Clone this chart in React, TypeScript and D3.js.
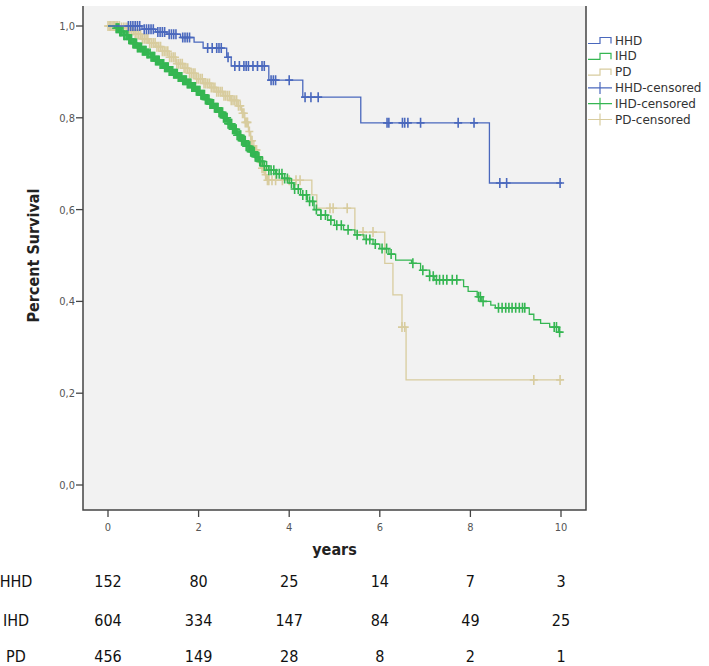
import React from "react";
import * as d3 from "d3";

// Kaplan-Meier steps: time (years) where survival drops, and new value
const hhdStepT = [0.75, 1.05, 1.3, 1.6, 1.9, 2.1, 2.62, 2.72, 3.55, 4.3, 5.58, 8.42];
const hhdStepS = [0.993, 0.987, 0.982, 0.975, 0.965, 0.952, 0.932, 0.913, 0.882, 0.845, 0.789, 0.658];
const hhdCens = [0.45, 0.5, 0.55, 0.6, 0.65, 0.7, 0.8, 0.85, 0.9, 0.95, 1.0, 1.1, 1.15, 1.2, 1.25, 1.35, 1.4, 1.45, 1.5,
  1.65, 1.7, 1.75, 1.8, 2.2, 2.3, 2.4, 2.45, 2.5, 2.65, 2.8, 2.9, 3.0, 3.05, 3.1, 3.2, 3.3, 3.4, 3.45, 3.6, 3.65, 3.7,
  4.0, 4.35, 4.48, 4.64, 6.16, 6.2, 6.5, 6.55, 6.62, 6.9, 7.73, 8.08, 8.65, 8.8, 9.98];

const ihdStepT = [0.15, 0.25, 0.35, 0.45, 0.55, 0.65, 0.75, 0.85, 0.95, 1.05, 1.15, 1.25, 1.35, 1.45, 1.55, 1.65, 1.75,
  1.85, 1.95, 2.05, 2.15, 2.25, 2.35, 2.45, 2.55, 2.65, 2.75, 2.85, 2.95, 3.05, 3.15, 3.25, 3.35, 3.45, 3.55, 3.7, 3.85,
  4.0, 4.1, 4.25, 4.4, 4.55, 4.7, 4.85, 5.0, 5.2, 5.45, 5.65, 5.85, 6.0, 6.2, 6.35, 6.7, 6.9, 7.1, 7.2, 7.85, 7.95, 8.15,
  8.25, 8.45, 8.55, 9.3, 9.4, 9.55, 9.75, 9.95];
const ihdStepS = [0.995, 0.988, 0.98, 0.971, 0.962, 0.953, 0.946, 0.94, 0.933, 0.925, 0.917, 0.91, 0.902, 0.896, 0.889,
  0.882, 0.875, 0.867, 0.859, 0.85, 0.84, 0.83, 0.822, 0.812, 0.8, 0.787, 0.775, 0.762, 0.75, 0.738, 0.726, 0.715, 0.705,
  0.695, 0.686, 0.678, 0.668, 0.658, 0.645, 0.632, 0.618, 0.6, 0.588, 0.577, 0.566, 0.556, 0.545, 0.535, 0.525, 0.515,
  0.503, 0.49, 0.483, 0.468, 0.455, 0.447, 0.432, 0.422, 0.41, 0.4, 0.392, 0.386, 0.372, 0.36, 0.352, 0.344, 0.333];
const ihdCens = [0.18, 0.2, 0.22, 0.24, 0.26, 0.28, 0.3, 0.33, 0.35, 0.37, 0.4, 0.42, 0.44, 0.46, 0.48, 0.5, 0.52, 0.55,
  0.57, 0.59, 0.61, 0.63, 0.65, 0.67, 0.7, 0.72, 0.74, 0.76, 0.78, 0.8, 0.82, 0.84, 0.86, 0.88, 0.9, 0.93, 0.95, 0.97,
  0.99, 1.01, 1.03, 1.05, 1.07, 1.09, 1.11, 1.13, 1.15, 1.17, 1.19, 1.21, 1.23, 1.25, 1.27, 1.29, 1.31, 1.33, 1.35, 1.37,
  1.39, 1.41, 1.43, 1.45, 1.47, 1.49, 1.51, 1.53, 1.55, 1.57, 1.59, 1.61, 1.63, 1.65, 1.67, 1.69, 1.71, 1.73, 1.75, 1.77,
  1.79, 1.81, 1.83, 1.85, 1.87, 1.89, 1.91, 1.93, 1.95, 1.97, 1.99, 2.01, 2.03, 2.05, 2.07, 2.09, 2.11, 2.13, 2.15, 2.17,
  2.19, 2.21, 2.23, 2.25, 2.27, 2.29, 2.31, 2.33, 2.35, 2.37, 2.39, 2.41, 2.43, 2.45, 2.47, 2.49, 2.51, 2.53, 2.55, 2.57,
  2.59, 2.61, 2.63, 2.65, 2.67, 2.69, 2.71, 2.73, 2.75, 2.77, 2.79, 2.81, 2.83, 2.85, 2.87, 2.89, 2.91, 2.93, 2.95, 2.97,
  2.99, 3.01, 3.03, 3.05, 3.07, 3.09, 3.11, 3.13, 3.15, 3.17, 3.19, 3.21, 3.23, 3.25, 3.27, 3.29, 3.31, 3.33, 3.35, 3.37,
  3.41, 3.45, 3.5, 3.55, 3.6, 3.66, 3.72, 3.78, 3.84, 3.9, 3.96, 4.05, 4.12, 4.2, 4.3, 4.38, 4.45,
  4.52, 4.6, 4.7, 4.8, 4.92, 5.05, 5.15, 5.3, 5.5, 5.7, 5.78, 5.9, 6.05, 6.15, 6.25, 6.73, 6.95, 7.1, 7.18, 7.25, 7.32,
  7.4, 7.48, 7.6, 7.7, 8.18, 8.22, 8.28, 8.62, 8.7, 8.78, 8.85, 8.92, 9.0, 9.08, 9.15, 9.2, 9.85, 9.9, 9.97];

const pdStepT = [0.3, 0.45, 0.6, 0.75, 0.9, 1.05, 1.2, 1.35, 1.5, 1.65, 1.8, 1.95, 2.1, 2.25, 2.4, 2.55, 2.7, 2.85, 2.95,
  3.02, 3.1, 3.15, 3.22, 3.3, 3.38, 3.45, 3.5, 4.5, 4.61, 5.45, 6.11, 6.29, 6.49, 6.58];
const pdStepS = [0.997, 0.99, 0.982, 0.972, 0.963, 0.955, 0.945, 0.932, 0.918, 0.908, 0.897, 0.885, 0.875, 0.866, 0.857,
  0.848, 0.838, 0.826, 0.81, 0.79, 0.77, 0.75, 0.73, 0.712, 0.69, 0.676, 0.664, 0.632, 0.603, 0.551, 0.483, 0.414, 0.344,
  0.229];
const pdCens = [0.0, 0.03, 0.06, 0.09, 0.12, 0.15, 0.18, 0.21, 0.25, 0.3, 0.35, 0.4, 0.44, 0.48, 0.52, 0.56, 0.6, 0.64,
  0.68, 0.72, 0.76, 0.8, 0.84, 0.88, 0.92, 0.96, 1.0, 1.04, 1.08, 1.12, 1.16, 1.2, 1.24, 1.28, 1.32, 1.36, 1.4, 1.44,
  1.48, 1.52, 1.56, 1.6, 1.64, 1.68, 1.72, 1.76, 1.8, 1.84, 1.88, 1.92, 1.96, 2.0, 2.04, 2.08, 2.12, 2.16, 2.2, 2.24,
  2.28, 2.32, 2.36, 2.4, 2.44, 2.48, 2.52, 2.56, 2.6, 2.64, 2.68, 2.72, 2.76, 2.8, 2.84, 2.88, 2.92, 2.97, 3.0, 3.03,
  3.06, 3.08, 3.12, 3.16, 3.18, 3.24, 3.26, 3.28, 3.32, 3.34, 3.4, 3.43, 3.48, 3.52, 3.55, 3.62, 3.7, 3.85, 4.0, 4.15,
  4.24, 4.9, 4.97, 5.28, 5.63, 5.85, 6.49, 6.55, 9.4, 9.98];

const endTime = 10.02;
const xTicks = [0, 2, 4, 6, 8, 10];
const yTicks = [0, 0.2, 0.4, 0.6, 0.8, 1.0];
const groups = ["HHD", "IHD", "PD"];
const atRiskHHD = [152, 80, 25, 14, 7, 3];
const atRiskIHD = [604, 334, 147, 84, 49, 25];
const atRiskPD = [456, 149, 28, 8, 2, 1];
const legendLabels = ["HHD", "IHD", "PD", "HHD-censored", "IHD-censored", "PD-censored"];

const colors = ["#4a68bd", "#35b652", "#d8cc9e"];

const x = d3.scaleLinear().domain([0, 10]).range([108, 561]);
const y = d3.scaleLinear().domain([0, 1]).range([485, 26]);

const plot = { left: 83, right: 586, top: 6, bottom: 510 };

const survAt = (ts: number[], ss: number[], t: number) => {
  let s = 1;
  for (let i = 0; i < ts.length; i++) if (ts[i] <= t) s = ss[i];
  return s;
};

const stepLine = d3.line<[number, number]>()
  .x(d => x(d[0]))
  .y(d => y(d[1]))
  .curve(d3.curveStepAfter);

const buildPath = (ts: number[], ss: number[]) => {
  const pts: [number, number][] = [[0, 1]];
  ts.forEach((t, i) => pts.push([t, ss[i]]));
  pts.push([endTime, ss[ss.length - 1]]);
  return stepLine(pts) || "";
};

const series = [
  { t: hhdStepT, s: hhdStepS, c: hhdCens, color: colors[0] },
  { t: ihdStepT, s: ihdStepS, c: ihdCens, color: colors[1] },
  { t: pdStepT, s: pdStepS, c: pdCens, color: colors[2] },
];

const fmt = (v: number) => v.toFixed(1).replace(".", ",");

export default function App() {
  const tickFont = "'DejaVu Sans Condensed', 'DejaVu Sans', sans-serif";
  const tableFont = "'Liberation Sans Narrow', 'DejaVu Sans Condensed', sans-serif";
  const riskRows = [atRiskHHD, atRiskIHD, atRiskPD];
  const rowY = [587, 626, 662];
  const drawOrder = [2, 1, 0];
  return (
    <svg width={709} height={666} style={{ position: "absolute", left: 0, top: 0, background: "#fff" }}>
      <rect x={plot.left} y={plot.top} width={plot.right - plot.left} height={plot.bottom - plot.top} fill="#f2f2f2" />
      {drawOrder.map(i => {
        const sr = series[i];
        return (
          <g key={i}>
            <path d={buildPath(sr.t, sr.s)} fill="none" stroke={sr.color} strokeWidth={1.3} />
            {sr.c.map((t, j) => {
              const cx = x(t);
              const cy = y(survAt(sr.t, sr.s, t));
              return (
                <path key={j} d={`M${cx - 4},${cy}H${cx + 4}M${cx},${cy - 5}V${cy + 5}`}
                  stroke={sr.color} strokeWidth={1.6} fill="none" />
              );
            })}
          </g>
        );
      })}
      {/* frame */}
      <path d={`M${plot.left},${plot.top}V${plot.bottom}H${plot.right}V${plot.top}`} fill="none" stroke="#444" strokeWidth={1.5} />
      {/* y axis */}
      {yTicks.map(v => (
        <g key={v}>
          <line x1={plot.left - 7} x2={plot.left} y1={y(v)} y2={y(v)} stroke="#444" strokeWidth={1.3} />
          <text x={plot.left - 8} y={y(v) + 4} textAnchor="end" fontFamily={tickFont} fontSize={11} fill="#555">{fmt(v)}</text>
        </g>
      ))}
      {/* x axis */}
      {xTicks.map(v => (
        <g key={v}>
          <line x1={x(v)} x2={x(v)} y1={plot.bottom} y2={plot.bottom + 7} stroke="#444" strokeWidth={1.3} />
          <text x={x(v)} y={plot.bottom + 21} textAnchor="middle" fontFamily={tickFont} fontSize={11} fill="#555">{v}</text>
        </g>
      ))}
      <text x={(x(0) + x(10)) / 2} y={555} textAnchor="middle" fontFamily={tableFont} fontWeight="bold" fontSize={16} fill="#222">years</text>
      <text transform={`translate(39,${(y(0) + y(1)) / 2}) rotate(-90)`} textAnchor="middle" fontFamily={tableFont}
        fontWeight="bold" fontSize={16} fill="#222">Percent Survival</text>
      {/* legend */}
      {legendLabels.map((lab, i) => {
        const ly = 40.5 + i * 15.8;
        const col = colors[i % 3];
        const sym = i < 3
          ? <path d={`M588,${ly + 3}H600V${ly - 3}H611V${ly + 3}`} fill="none" stroke={col} strokeWidth={1.2} />
          : <path d={`M588,${ly}H612M600,${ly - 6}V${ly + 6}`} fill="none" stroke={col} strokeWidth={1.2} />;
        return (
          <g key={lab}>
            {sym}
            <text x={615} y={ly + 4} fontFamily="'DejaVu Sans', sans-serif" fontSize={12} fill="#333">{lab}</text>
          </g>
        );
      })}
      {/* numbers at risk */}
      {riskRows.map((row, r) => (
        <g key={r}>
          <text x={16} y={rowY[r]} textAnchor="middle" fontFamily={tableFont} fontSize={16} fill="#111">{groups[r]}</text>
          {row.map((n, k) => (
            <text key={k} x={x(xTicks[k])} y={rowY[r]} textAnchor="middle" fontFamily={tableFont} fontSize={16} fill="#111">{n}</text>
          ))}
        </g>
      ))}
    </svg>
  );
}
